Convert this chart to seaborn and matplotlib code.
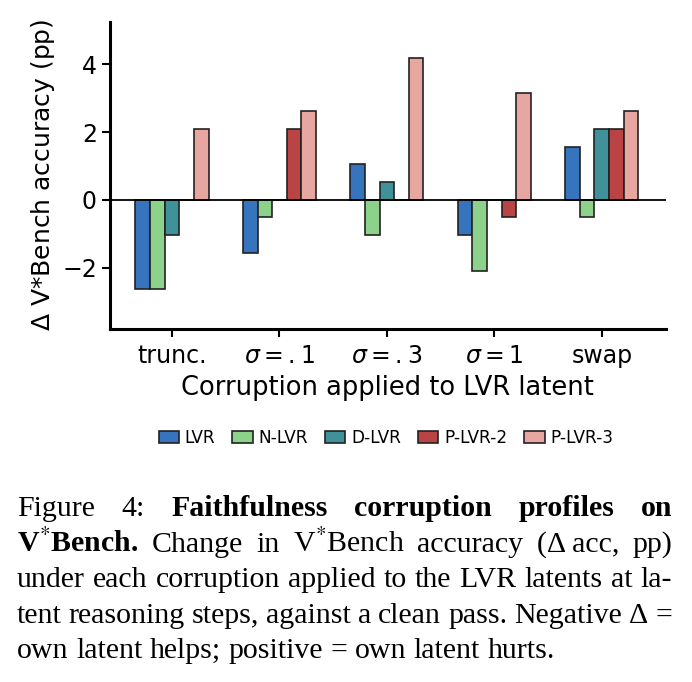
import numpy as np
import pandas as pd
import matplotlib
matplotlib.use("Agg")
import matplotlib.pyplot as plt
import seaborn as sns

# -------------------------------
# Data
# -------------------------------
corruptions = ["trunc.", r"$\sigma=.1$", r"$\sigma=.3$", r"$\sigma=1$", "swap"]
models = ["LVR", "N-LVR", "D-LVR", "P-LVR-2", "P-LVR-3"]

lvr = [-2.62, -1.57, 1.05, -1.05, 1.57]
n_lvr = [-2.62, -0.52, -1.05, -2.09, -0.52]
d_lvr = [-1.05, 0.0, 0.52, 0.0, 2.09]
p_lvr_2 = [0.0, 2.09, 0.0, -0.52, 2.09]
p_lvr_3 = [2.09, 2.62, 4.19, 3.14, 2.62]

colors = ["#3674BD", "#8CD28A", "#3F9299", "#B94443", "#E8A6A0"]

rows = []
for model, vals in zip(models, [lvr, n_lvr, d_lvr, p_lvr_2, p_lvr_3]):
    for c, v in zip(corruptions, vals):
        rows.append({"corruption": c, "model": model, "delta": v})
df = pd.DataFrame(rows)

# -------------------------------
# Plot
# -------------------------------
sns.set_style("ticks")
plt.rcParams["font.family"] = ["DejaVu Sans"]
for key in ["text.color", "axes.labelcolor", "xtick.color", "ytick.color",
            "axes.edgecolor"]:
    plt.rcParams[key] = "black"

fig = plt.figure(figsize=(6.92, 6.82), dpi=100)
ax = fig.add_axes([0.159, 0.518, 0.803, 0.450])

sns.barplot(data=df, x="corruption", y="delta", hue="model",
            order=corruptions, hue_order=models, palette=colors,
            width=0.68, edgecolor="#222222", linewidth=1.2,
            saturation=1, legend=False, ax=ax)

ax.axhline(0, color="black", linewidth=1.3, zorder=5)
ax.set_xlim(-0.577, 4.595)
ax.set_ylim(-3.8, 5.25)
ax.set_yticks([-2, 0, 2, 4])
ax.set_xlabel("Corruption applied to LVR latent", fontsize=18.5, labelpad=5)
ax.set_ylabel(r"$\Delta$ V*Bench accuracy (pp)", fontsize=18)
ax.tick_params(axis="both", labelsize=17, length=6, width=1.5)
ax.tick_params(axis="x", pad=5)
sns.despine(ax=ax)
for s in ["left", "bottom"]:
    ax.spines[s].set_linewidth(2.2)

handles = [plt.Rectangle((0, 0), 1, 1, facecolor=c, edgecolor="#222222",
                         linewidth=1.2) for c in colors]
fig.legend(handles, models, loc="center", bbox_to_anchor=(0.558, 0.358),
           ncol=5, frameon=False, fontsize=12.2, handlelength=1.2,
           handletextpad=0.35, columnspacing=1.0)

# -------------------------------
# Caption (justified, serif)
# -------------------------------
plt.rcParams["mathtext.fontset"] = "stix"
renderer = fig.canvas.get_renderer()
cap_size = 21.5
x_left, x_right = 17 / 692, 672 / 692

caption_lines = [
    [("Figure", "normal"), ("4:", "normal"), ("Faithfulness", "bold"),
     ("corruption", "bold"), ("profiles", "bold"), ("on", "bold")],
    [("V$^{*}$Bench.", "bold"), ("Change", "normal"), ("in", "normal"),
     ("V$^{*}$Bench", "normal"), ("accuracy", "normal"),
     ("(\u0394\u2009acc,", "normal"), ("pp)", "normal")],
    [(w, "normal") for w in
     "under each corruption applied to the LVR latents at la-".split()],
    [(w, "normal") for w in
     "tent reasoning steps, against a clean pass. Negative \u0394 =".split()],
    [(w, "normal") for w in
     "own latent helps; positive = own latent hurts.".split()],
]
baselines = [516, 552, 587, 623, 658]

for i, (words, yb) in enumerate(zip(caption_lines, baselines)):
    y = 1 - yb / 682
    arts = [fig.text(0, y, w, fontsize=cap_size, weight=wt,
                     family=["Liberation Serif", "DejaVu Serif"],
                     va="baseline", ha="left") for w, wt in words]
    widths = [a.get_window_extent(renderer).width / fig.bbox.width for a in arts]
    if i < len(caption_lines) - 1:
        gap = (x_right - x_left - sum(widths)) / (len(arts) - 1)
    else:
        gap = 0.25 * cap_size / 72 * 100 / fig.bbox.width
    x = x_left
    for a, w in zip(arts, widths):
        a.set_x(x)
        x += w + gap

fig.savefig("out.png", dpi=100)
